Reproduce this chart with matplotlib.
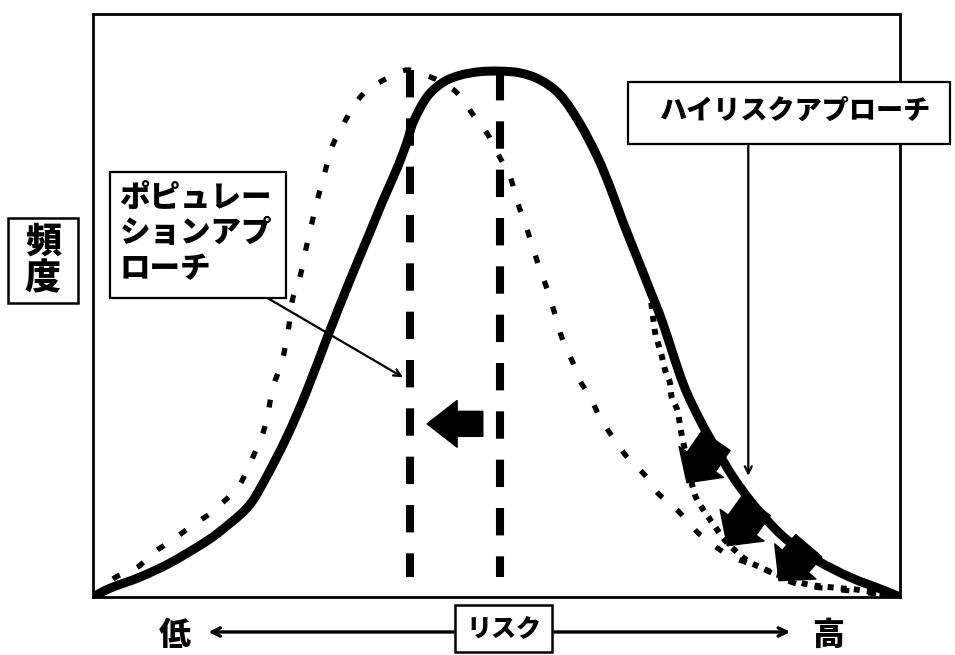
import matplotlib
matplotlib.use("Agg")
import matplotlib.pyplot as plt
import numpy as np
from matplotlib.patches import Rectangle, PathPatch
from matplotlib.path import Path

plt.rcParams['font.family'] = ['Noto Sans CJK JP', 'DejaVu Sans']

# ---- data (risk 0-100, frequency 0-100) ----
solid_x = [0, 2.1, 5.8, 9.5, 13.3, 15.6, 19.1, 21.1, 24.0, 26.5, 29.1, 31.8, 34.3, 35.9, 37.7,
           38.9, 39.7, 41.4, 43.4, 45.5, 47.9, 50.4, 52.9, 55.4, 57.9, 60.3, 62.5, 64.1, 65.7,
           67.4, 69.0, 70.6, 73.1, 75.2, 77.3, 79.3, 81.4, 83.5, 86.0, 89.7, 93.8, 97.9, 100]
solid_y = [0, 1.5, 3.4, 5.8, 8.9, 11.1, 15.3, 19.6, 27.4, 35.4, 44.8, 54.2, 62.5, 67.9, 73.6,
           78.0, 81.5, 85.8, 88.3, 89.5, 90.1, 90.2, 89.9, 88.7, 86.1, 81.3, 75.5, 70.2, 64.2,
           58.3, 52.7, 47.0, 36.7, 30.4, 25.2, 20.6, 16.6, 13.2, 9.8, 6.3, 3.4, 1.2, 0]

pop_x = [0, 2.7, 5.5, 7.4, 10.2, 12.3, 14.3, 16.0, 18.0, 19.1, 20.1, 21.1, 21.7, 22.3, 23.4,
         24.2, 24.7, 25.7, 26.5, 27.3, 27.9, 28.8, 29.7, 31.5, 32.8, 34.3, 36.8, 39.0, 41.8,
         44.2, 45.7, 47.1, 48.8, 50.1, 51.7, 52.5, 53.8, 55.0, 56.3, 57.2, 58.2, 59.5, 60.3,
         61.6, 62.8, 64.4, 66.3, 68.4, 70.0, 72.4, 74.6, 76.5, 78.7, 80.8, 82.9, 85.1, 87.6,
         91.3, 95.0, 100]
pop_y = [0, 3.3, 5.1, 7.5, 10.1, 12.3, 14.1, 16.1, 18.9, 21.8, 24.9, 28.3, 31.7, 36.0, 40.3,
         45.8, 50.9, 55.2, 60.4, 65.2, 68.6, 73.2, 77.5, 82.3, 85.2, 87.3, 89.2, 90.4, 89.2,
         87.5, 85.6, 82.7, 79.6, 76.2, 72.0, 68.1, 63.0, 57.8, 52.7, 48.7, 44.1, 40.1, 37.2,
         34.3, 30.9, 27.4, 23.8, 20.9, 17.8, 14.9, 11.5, 9.3, 7.2, 6.0, 5.0, 3.4, 2.1,
         1.4, 0.9, 0]

hr_x = [69.0, 69.6, 70.0, 70.5, 70.9, 71.5, 71.7, 72.4, 72.7, 73.0, 73.4, 74.3, 74.9, 76.5,
        78.6, 81.0, 82.7, 84.3, 86.7, 88.8, 92.6, 95.0, 100]
hr_y = [52.7, 45.8, 43.6, 41.2, 38.9, 36.7, 34.3, 32.1, 29.8, 27.4, 24.9, 18.9, 16.6, 13.2,
        9.3, 6.3, 5.1, 4.1, 2.9, 2.1, 1.5, 1.2, 0]

mean_x = [39.3, 50.4]          # dashed lines (population mean before / after)
mean_top = [90.4, 89.9]

label_y = '頻度'
label_pop = ['ポピュレー', 'ションアプ', 'ローチ']
label_hr = 'ハイリスクアプローチ'
label_risk = 'リスク'
label_low = '低'
label_high = '高'

FW = 'heavy'

# ---- figure ----
fig = plt.figure(figsize=(9.55, 6.55), dpi=100)
ax = fig.add_axes([93 / 955, (655 - 597) / 655, 807 / 955, 583 / 655])
ax.set_xlim(0, 100)
ax.set_ylim(0, 100)
ax.set_xticks([])
ax.set_yticks([])
for s in ax.spines.values():
    s.set_linewidth(2.0)
    s.set_color('black')


def smooth_path(xs, ys):
    """Catmull-Rom curve through the read points, drawn as cubic Bezier segments."""
    p = np.column_stack([xs, ys]).astype(float)
    verts = [p[0]]
    codes = [Path.MOVETO]
    n = len(p)
    for i in range(n - 1):
        p0 = p[i - 1] if i > 0 else p[i]
        p1, p2 = p[i], p[i + 1]
        p3 = p[i + 2] if i + 2 < n else p[i + 1]
        c1 = p1 + (p2 - p0) / 6.0
        c2 = p2 - (p3 - p1) / 6.0
        verts += [c1, c2, p2]
        codes += [Path.CURVE4] * 3
    return Path(verts, codes)


def curve(xs, ys, **kw):
    ax.add_patch(PathPatch(smooth_path(xs, ys), facecolor='none', edgecolor='black', **kw))


curve(solid_x, solid_y, lw=6.5, joinstyle='round', capstyle='round', zorder=3)
curve(pop_x, pop_y, lw=3.8, linestyle=(0, (1.5, 3.6)), zorder=3)
curve(hr_x, hr_y, lw=4.3, linestyle=(0, (1.0, 1.2)), zorder=3)

# dashed mean lines
for x, top in zip(mean_x, mean_top):
    ax.plot([x, x], [top, 3.4], color='black', lw=5.8, linestyle=(0, (3.4, 2.6)),
            solid_capstyle='butt', zorder=2)


# block arrows
def block_arrow(tail, tip, ms, tw, hw, hl):
    ax.annotate('', xy=tip, xytext=tail,
                arrowprops=dict(arrowstyle=f'simple,head_length={hl},head_width={hw},tail_width={tw}',
                                mutation_scale=ms, color='black', shrinkA=0, shrinkB=0),
                zorder=4)


block_arrow((48.3, 29.7), (41.4, 29.7), 24, 0.75, 1.4, 0.9)
block_arrow((77.2, 26.8), (73.6, 19.6), 26, 0.95, 1.5, 0.7)
block_arrow((82.2, 15.7), (78.6, 8.8), 26, 0.95, 1.5, 0.7)
block_arrow((88.7, 8.8), (85.0, 2.8), 26, 0.95, 1.5, 0.7)

# population approach box and pointer
ax.add_patch(Rectangle((2.1, 51.3), 21.8, 21.6, facecolor='white', edgecolor='black',
                       lw=1.6, zorder=5))
for txt, yy in zip(label_pop, [68.6, 62.6, 56.4]):
    ax.text(3.3, yy, txt, fontsize=22, fontweight=FW, ha='left', va='center', zorder=6)
ax.annotate('', xy=(38.4, 37.7), xytext=(21.6, 51.3),
            arrowprops=dict(arrowstyle='->,head_length=0.5,head_width=0.25', lw=1.6,
                            color='black', shrinkA=0, shrinkB=0), zorder=4)

# high-risk approach box and pointer
ax.add_patch(Rectangle((66.3, 77.7), 39.9, 10.6, facecolor='white', edgecolor='black',
                       lw=1.6, zorder=5, clip_on=False))
ax.text(87.0, 83.4, label_hr, fontsize=19.5, fontweight=FW, ha='center', va='center',
        zorder=6)
ax.annotate('', xy=(81.2, 20.8), xytext=(81.2, 77.4),
            arrowprops=dict(arrowstyle='->,head_length=0.5,head_width=0.25', lw=1.6,
                            color='black', shrinkA=0, shrinkB=0), zorder=4)

# y label box
ax.add_patch(Rectangle((-10.5, 50.4), 8.6, 14.6, facecolor='white', edgecolor='black',
                       lw=1.8, clip_on=False, zorder=5))
ax.text(-6.2, 61.0, label_y[0], fontsize=26, fontweight=FW, ha='center', va='center',
        zorder=6)
ax.text(-6.2, 54.7, label_y[1], fontsize=26, fontweight=FW, ha='center', va='center',
        zorder=6)

# risk axis
ax.add_patch(Rectangle((44.9, -9.4), 12.0, 8.0, facecolor='white', edgecolor='black',
                       lw=1.8, clip_on=False, zorder=5))
ax.text(50.9, -5.4, label_risk, fontsize=18, fontweight=FW, ha='center', va='center',
        zorder=6)
for start, end in [((44.9, -6.0), (14.3, -6.0)), ((56.9, -6.0), (86.4, -6.0))]:
    ax.annotate('', xy=end, xytext=start, xycoords='data', annotation_clip=False,
                arrowprops=dict(arrowstyle='->,head_length=0.6,head_width=0.3', lw=2.4,
                                color='black', shrinkA=0, shrinkB=0))
ax.text(10.2, -6.6, label_low, fontsize=23, fontweight=FW, ha='center', va='center')
ax.text(91.1, -6.6, label_high, fontsize=23, fontweight=FW, ha='center', va='center')

fig.savefig('out.png', dpi=100, facecolor='white')
